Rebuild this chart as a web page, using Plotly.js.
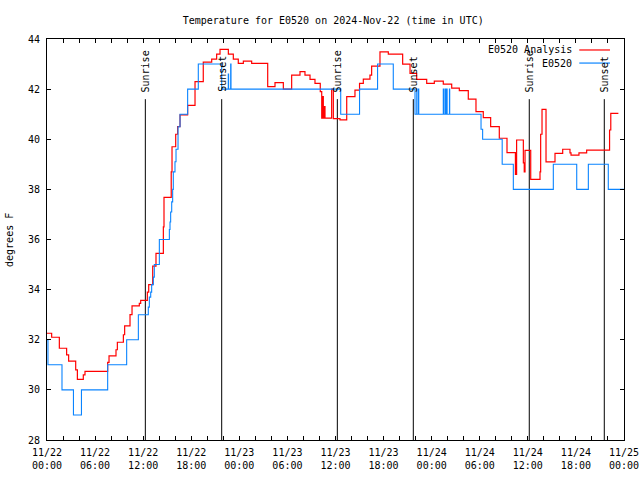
<!DOCTYPE html>
<html>
<head>
<meta charset="utf-8">
<script src="https://cdn.plot.ly/plotly-3.0.1.min.js"></script>
<style>html,body{margin:0;padding:0;background:#fff;}#chart{width:640px;height:480px;}</style>
</head>
<body>
<div id="chart"></div>
<script>
// Hours since 2024-11-22 00:00 UTC, and temperatures (deg F)
const redHours = [0, 0.58, 1.54, 2.45, 2.70, 3.58, 3.79, 4.53, 4.74, 7.57, 7.74, 8.61, 8.78, 9.53, 9.69, 10.36, 10.61, 11.52, 11.69, 12.52, 12.69, 13.19, 13.60, 14.52, 14.60, 15.50, 15.60, 16.06, 16.30, 16.60, 17.55, 18.47, 19.50, 20.55, 21.17, 21.59, 22.63, 23.25, 23.87, 24.50, 25.54, 27.54, 28.45, 29.49, 30.53, 31.57, 32.19, 32.82, 33.44, 34.10, 34.28, 34.40, 34.48, 34.60, 34.69, 35.52, 35.73, 36.56, 37.40, 38.43, 39.00, 39.47, 40.30, 40.51, 41.55, 42.59, 44.38, 45.30, 46.13, 47.38, 48.33, 49.45, 50.50, 51.45, 52.57, 53.53, 54.44, 55.36, 56.44, 57.40, 58.45, 58.60, 59.44, 59.55, 59.65, 60.36, 61.52, 61.60, 61.77, 62.27, 63.39, 64.35, 65.26, 65.39, 66.38, 67.34, 70.20, 70.35, 71.30];
const redTemps = [32.26, 32.10, 31.66, 31.40, 31.15, 30.80, 30.42, 30.60, 30.74, 31.10, 31.36, 31.60, 31.90, 32.20, 32.55, 33.00, 33.35, 33.45, 33.57, 33.90, 34.20, 34.94, 35.45, 36.50, 37.68, 38.70, 39.70, 40.20, 40.50, 40.97, 41.35, 42.30, 43.08, 43.20, 43.40, 43.59, 43.40, 43.20, 43.03, 43.12, 43.03, 42.10, 42.26, 42.00, 42.56, 42.70, 42.56, 42.39, 42.23, 41.90, 40.84, 41.70, 40.84, 41.30, 40.84, 42.00, 40.82, 40.77, 41.70, 41.96, 42.23, 42.40, 42.56, 42.92, 43.49, 43.40, 43.00, 42.63, 42.39, 42.23, 42.32, 42.20, 42.04, 41.94, 41.60, 41.10, 40.86, 40.50, 40.04, 39.47, 38.60, 39.97, 39.06, 38.70, 39.56, 38.40, 38.70, 40.20, 41.19, 39.10, 39.44, 39.60, 39.46, 39.37, 39.46, 39.57, 40.37, 41.03, 41.03];

const obsHours = [0, 0.12, 1.87, 3.30, 4.30, 7.57, 9.94, 11.40, 12.64, 12.77, 12.94, 13.06, 13.27, 13.39, 14.02, 15.27, 15.35, 15.43, 15.56, 15.68, 15.76, 15.97, 16.10, 16.35, 16.60, 17.55, 18.88, 21.80, 22.62, 22.66, 22.92, 22.96, 36.65, 39.00, 41.25, 43.21, 45.92, 46.14, 46.17, 46.36, 46.39, 49.45, 49.48, 49.66, 49.69, 49.78, 49.81, 49.90, 49.93, 50.22, 50.25, 54.16, 54.36, 56.80, 58.19, 63.18, 66.10, 67.55, 70.04, 72.0];
const obsTemps = [32, 31, 30, 29, 30, 31, 32, 33, 33.3, 33.7, 33.9, 34.2, 34.5, 35, 36, 36.4, 36.7, 37.1, 37.5, 38, 38.7, 39.1, 39.6, 40.5, 41, 42, 43, 42, 42.6, 42, 43, 42, 41, 42, 43, 42, 41, 42, 41, 42, 41, 42, 41, 42, 41, 42, 41, 42, 41, 42, 41, 40.4, 40, 39, 38, 39, 38, 39, 38, 38];

const sunriseHours = [12.27, 36.23, 60.18];
const sunsetHours = [21.80, 45.71, 69.54];
const sunLineTop = 41.6;

const seriesNames = ["E0520 Analysis", "E0520"];
const seriesColors = ["#ff0000", "#0a84ff"];

const base = Date.UTC(2024, 10, 22);
function toDate(h) {
  return new Date(base + h * 3600000).toISOString().replace('T', ' ').slice(0, 19);
}

const FONT = "DejaVu Sans Mono, monospace";

const sunX = [], sunY = [];
sunriseHours.concat(sunsetHours).forEach(h => {
  sunX.push(toDate(h), toDate(h), null);
  sunY.push(28, sunLineTop, null);
});

const traces = [
  {x: sunX, y: sunY, mode: 'lines', line: {color: '#000', width: 1}, hoverinfo: 'skip', showlegend: false},
  {x: redHours.map(toDate), y: redTemps, mode: 'lines', line: {shape: 'hv', color: seriesColors[0], width: 1.2}, name: seriesNames[0], showlegend: false},
  {x: obsHours.map(toDate), y: obsTemps, mode: 'lines', line: {shape: 'hv', color: seriesColors[1], width: 1.1}, name: seriesNames[1], showlegend: false}
];

const annotations = [];
sunriseHours.forEach(h => annotations.push({x: toDate(h), y: sunLineTop, xref: 'x', yref: 'y', text: 'Sunrise', textangle: -90, showarrow: false, xanchor: 'center', yanchor: 'bottom', yshift: 5, font: {family: FONT, size: 10, color: '#000'}}));
sunsetHours.forEach(h => annotations.push({x: toDate(h), y: sunLineTop, xref: 'x', yref: 'y', text: 'Sunset', textangle: -90, showarrow: false, xanchor: 'center', yanchor: 'bottom', yshift: 5, font: {family: FONT, size: 10, color: '#000'}}));

// y-axis title
annotations.push({x: -0.064, y: 0.499, xref: 'paper', yref: 'paper', text: 'degrees F', textangle: -90, showarrow: false, xanchor: 'center', yanchor: 'middle', font: {family: FONT, size: 10, color: '#000'}});

// legend (gnuplot style: text then line sample)
const legY = [0.9726, 0.94];
const shapes = [];
seriesNames.forEach((n, i) => {
  annotations.push({x: 0.913, y: legY[i], xref: 'paper', yref: 'paper', text: n, showarrow: false, xanchor: 'right', yanchor: 'middle', font: {family: FONT, size: 10, color: '#000'}});
  shapes.push({type: 'line', xref: 'paper', yref: 'paper', x0: 0.9225, x1: 0.9757, y0: legY[i], y1: legY[i], line: {color: seriesColors[i], width: 1.2}});
});

const layout = {
  width: 640, height: 480,
  margin: {l: 47, r: 16, t: 39, b: 40},
  paper_bgcolor: '#fff', plot_bgcolor: '#fff',
  showlegend: false,
  font: {family: FONT, size: 10, color: '#000'},
  title: {text: 'Temperature for E0520 on 2024-Nov-22 (time in UTC)', x: 0.496, xref: 'paper', y: 0.958, yref: 'container', xanchor: 'center', yanchor: 'middle', font: {family: FONT, size: 10, color: '#000'}},
  xaxis: {
    type: 'date',
    range: [toDate(0), toDate(72)],
    tick0: toDate(0), dtick: 6 * 3600000,
    tickformat: '%m/%d<br>%H:%M',
    ticks: 'inside', ticklen: 4, tickcolor: '#000',
    minor: {dtick: 2 * 3600000, tick0: toDate(0), ticks: 'inside', ticklen: 4, tickcolor: '#000', showgrid: false},
    showline: true, linecolor: '#000', linewidth: 1, mirror: 'allticks',
    showgrid: false, zeroline: false,
    ticklabelstandoff: 3,
    tickfont: {family: FONT, size: 10, color: '#000'}
  },
  yaxis: {
    range: [28, 44], dtick: 2, tick0: 28,
    ticks: 'inside', ticklen: 4, tickcolor: '#000',
    showline: true, linecolor: '#000', linewidth: 1, mirror: 'allticks',
    showgrid: false, zeroline: false,
    ticklabelstandoff: 4,
    tickfont: {family: FONT, size: 10, color: '#000'}
  },
  annotations: annotations,
  shapes: shapes
};

Plotly.newPlot('chart', traces, layout, {staticPlot: true, displayModeBar: false});
</script>
</body>
</html>
